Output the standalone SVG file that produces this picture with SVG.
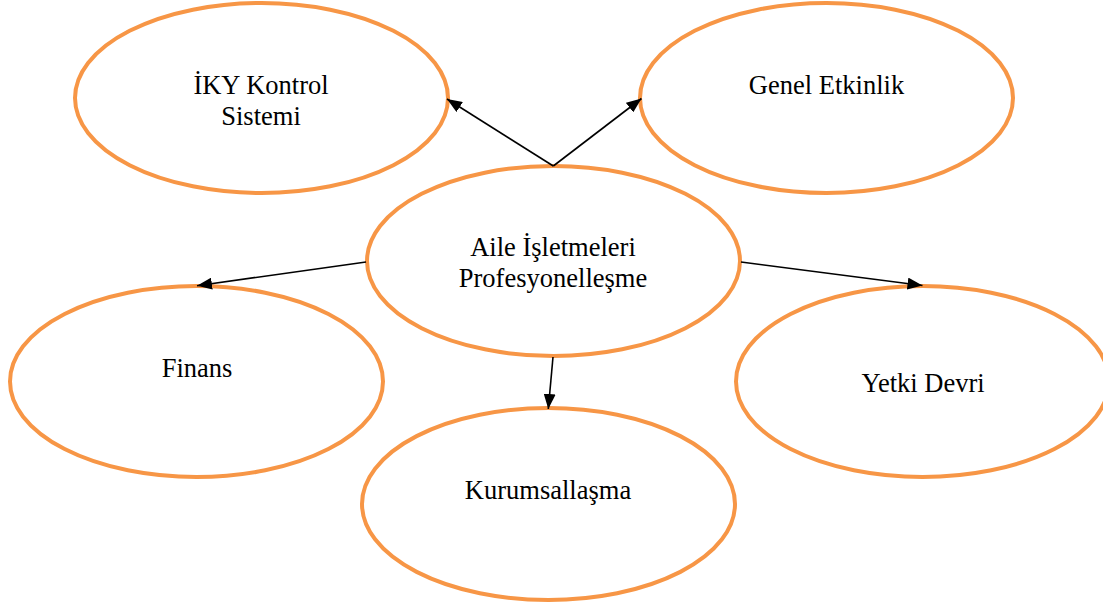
<svg xmlns="http://www.w3.org/2000/svg" width="1103" height="608" viewBox="0 0 1103 608">
<style>
.node ellipse{fill:#fff;stroke:#F79646;stroke-width:4}
.node text{font-family:"Liberation Serif","Times New Roman",serif;font-size:26.5px;fill:#000;text-anchor:middle}
.conn line{stroke:#000;stroke-width:1.6;marker-end:url(#ah)}
</style>
<defs>
<marker id="ah" markerUnits="userSpaceOnUse" markerWidth="15" markerHeight="12" refX="15" refY="6" orient="auto">
<path d="M0,0 L15,6 L0,12 z" fill="#000"/>
</marker>
</defs>
<rect width="1103" height="608" fill="#fff"/>
<g id="n-iky" class="node">
<ellipse cx="261.5" cy="98" rx="186.5" ry="95"/>
<text x="261" y="94">İKY Kontrol</text>
<text x="261" y="125">Sistemi</text>
</g>
<g id="n-genel" class="node">
<ellipse cx="826.5" cy="98" rx="186.5" ry="95"/>
<text x="826.5" y="94">Genel Etkinlik</text>
</g>
<g id="n-aile" class="node">
<ellipse cx="553.5" cy="261" rx="186.5" ry="95"/>
<text x="553" y="256">Aile İşletmeleri</text>
<text x="553" y="287">Profesyonelleşme</text>
</g>
<g id="n-finans" class="node">
<ellipse cx="196.5" cy="381.5" rx="186.5" ry="95.5"/>
<text x="197" y="377">Finans</text>
</g>
<g id="n-yetki" class="node">
<ellipse cx="922.5" cy="381.5" rx="186.5" ry="95.5"/>
<text x="923" y="392">Yetki Devri</text>
</g>
<g id="n-kurum" class="node">
<ellipse cx="548.5" cy="504" rx="186.5" ry="96"/>
<text x="548" y="499">Kurumsallaşma</text>
</g>
<g id="connectors" class="conn">
<line x1="553.3" y1="166" x2="447" y2="99"/>
<line x1="553.3" y1="166" x2="641.5" y2="98.5"/>
<line x1="366" y1="262" x2="197" y2="285.7"/>
<line x1="741" y1="262" x2="922.5" y2="285.5"/>
<line x1="553" y1="357" x2="548.3" y2="409"/>
</g>
</svg>
